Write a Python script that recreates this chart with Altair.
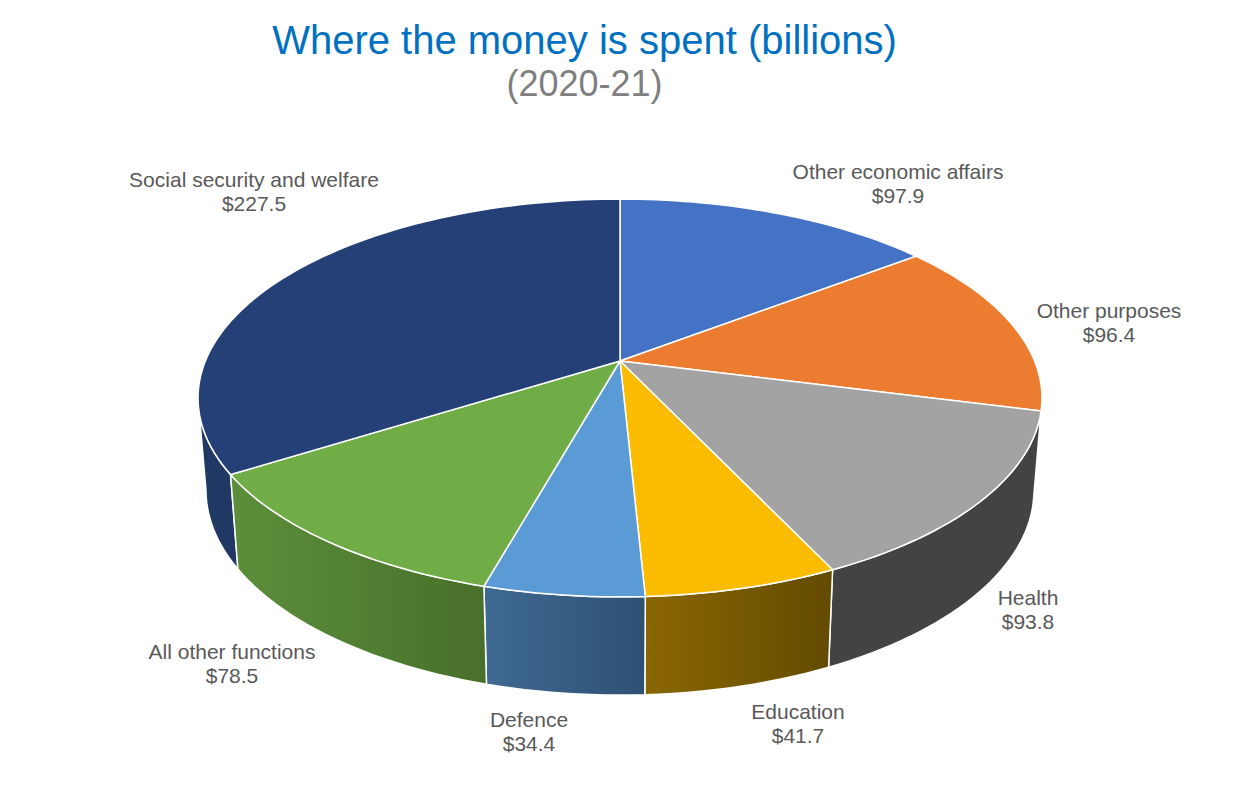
import math
import altair as alt

# ---- values ----
names = ["Other economic affairs", "Other purposes", "Health", "Education",
         "Defence", "All other functions", "Social security and welfare"]
values = [97.9, 96.4, 93.8, 41.7, 34.4, 78.5, 227.5]
money = ["$97.9", "$96.4", "$93.8", "$41.7", "$34.4", "$78.5", "$227.5"]

# ---- styles and layout ----
top_colors = ["#4472C4", "#EC7C30", "#A3A3A3", "#FBBC00", "#5B9BD5", "#70AD47", "#244076"]
wall_stops = [("#2f4c85", "#2f4c85"), ("#9e4d17", "#9e4d17"), ("#434343", "#434343"),
              ("#8a6703", "#624a00"), ("#3f6a92", "#2f5073"), ("#5c8f3a", "#486f2b"),
              ("#1f3864", "#1f3864")]
label_pos = [(898, 173), (1109, 312), (1028, 599), (798, 713), (529, 721), (232, 653), (254, 181)]
OX, OY = 8, 113

P = 0.186
TOP = dict(cx=620, cy=361, a=414.6, b=192.0)
BOT = dict(cx=620, cy=452, a=406.8, b=197.9)
LEFT_TANGENT = 2 * math.pi - math.acos(-P)


def project(theta, m):
    X, Y = math.sin(theta), math.cos(theta)
    w = 1 + P * Y
    return [m["cx"] + m["a"] * X / w - OX, m["cy"] - m["b"] * Y / w - OY]


def arc(t0, t1, m):
    n = max(2, int(abs(t1 - t0) / math.radians(1.5)))
    return [project(t0 + (t1 - t0) * i / n, m) for i in range(n + 1)]


def feature(ring, name):
    ring = ring + [ring[0]]
    return {"type": "Feature", "properties": {"name": name},
            "geometry": {"type": "Polygon", "coordinates": [ring]}}


total = sum(values)
angles = [0.0]
for v in values:
    angles.append(angles[-1] + v / total * 2 * math.pi)

apex = [TOP["cx"] - OX, TOP["cy"] - OY]
tops = [feature([apex] + arc(angles[i], angles[i + 1], TOP), names[i]) for i in range(len(values))]

layers = []
for i in [1, 6, 2, 3, 4, 5]:
    t0, t1 = angles[i], angles[i + 1]
    if i == 6:
        t1 = LEFT_TANGENT
    ring = arc(t0, t1, TOP) + arc(t1, t0, BOT)
    c0, c1 = wall_stops[i]
    fill = alt.Gradient(gradient="linear", x1=0, x2=1, y1=0, y2=0,
                        stops=[alt.GradientStop(color=c0, offset=0),
                               alt.GradientStop(color=c1, offset=1)])
    layers.append(alt.Chart(alt.Data(values=[feature(ring, names[i])]))
                  .mark_geoshape(fill=fill, stroke="white", strokeWidth=1.5))

top_layer = alt.Chart(alt.Data(values=tops)).mark_geoshape(stroke="white", strokeWidth=1.5).encode(
    color=alt.Color("properties.name:N", legend=None,
                    scale=alt.Scale(domain=names, range=top_colors)))

label_rows = [{"label": n + "\n" + m, "lon": p[0] - OX, "lat": p[1] - OY}
              for n, m, p in zip(names, money, label_pos)]
labels = alt.Chart(alt.Data(values=label_rows)).mark_text(
    font="Liberation Sans", fontSize=21, color="#595959", lineBreak="\n",
    align="center", baseline="middle", lineHeight=24,
).encode(longitude="lon:Q", latitude="lat:Q", text="label:N")

chart = alt.layer(*layers, top_layer, labels).project(
    type="identity", scale=1, translate=[0, 0]
).properties(
    width=1229, height=660, padding={"top": 14, "left": 0, "right": 0, "bottom": 0},
    title=alt.TitleParams(
        text="Where the money is spent (billions)", subtitle="(2020-21)",
        font="Liberation Sans", fontSize=40, fontWeight="normal", color="#0070C0",
        subtitleFont="Liberation Sans", subtitleFontSize=36, subtitleColor="#7F7F7F",
        subtitlePadding=6, anchor="middle", dx=-38, offset=10),
).configure_view(stroke=None)

chart.save("out.html", embed_options={"renderer": "svg", "actions": False})
